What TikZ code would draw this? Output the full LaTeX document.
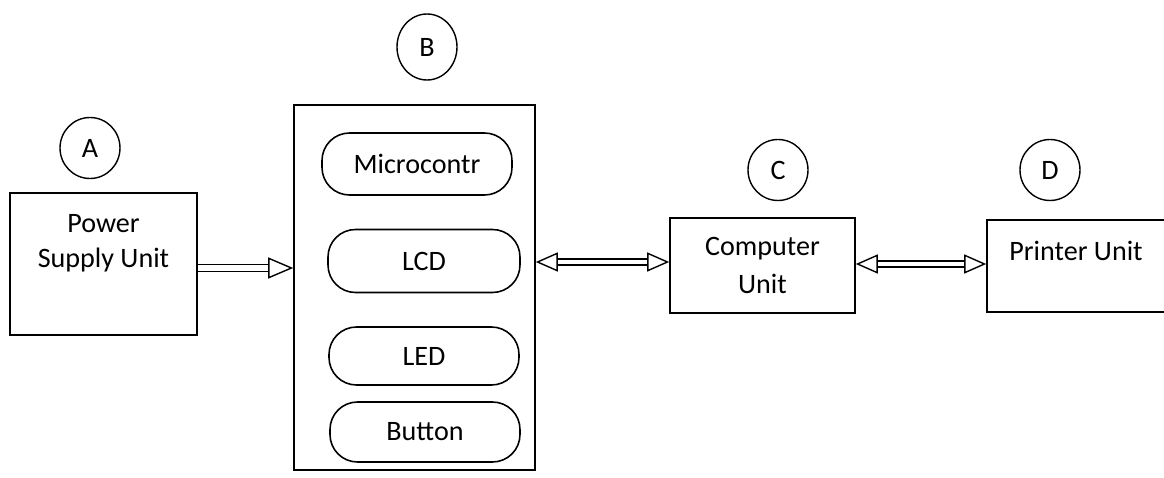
\documentclass[tikz,border=0pt]{standalone}
\usepackage{fontspec}
\setmainfont{Carlito}
\usetikzlibrary{arrows.meta, positioning, shapes.geometric}

\tikzset{
  unit/.style={draw, line width=0.9pt, rectangle, inner sep=0pt},
  part/.style={draw, line width=0.9pt, rounded corners=0.55cm, minimum width=3.8cm, inner sep=0pt},
  tag/.style={draw, line width=0.8pt, ellipse, minimum width=1.2cm, minimum height=1.22cm, inner sep=0pt},
  flow/.style={double, double distance=3.4pt, line width=0.8pt, -{Triangle[open, length=0.5cm, width=0.42cm]}},
  link/.style={double, double distance=2.6pt, line width=0.8pt, {Triangle[open, length=0.44cm, width=0.38cm]}-{Triangle[open, length=0.44cm, width=0.38cm]}}
}

\begin{document}
\begin{tikzpicture}[font=\fontsize{16}{20}\selectfont]
            \useasboundingbox (0,0) rectangle (23.28,-9.56);

            % Labels above the units
            \node[tag] (tagA) at (1.8,-2.96) {A};
            \node[tag, minimum height=1.32cm] (tagB) at (8.54,-0.94) {B};
            \node[tag] (tagC) at (15.56,-3.4) {C};
            \node[tag] (tagD) at (21,-3.4) {D};

            % Power supply
            \node[unit, minimum width=3.74cm, minimum height=2.84cm] (psu) at (2.07,-5.28) {};
            \node[align=center, anchor=north] (psutext) at ([yshift=-0.32cm]psu.north) {Power\\Supply Unit};

            % Controller board
            \node[unit, minimum width=4.82cm, minimum height=7.3cm] (board) at (8.29,-5.75) {};
            \node[part, minimum height=1.24cm] (mcu) at (8.34,-3.28) {Microcontr};
            \node[part, minimum width=3.84cm, minimum height=1.26cm] (lcd) at (8.48,-5.22) {LCD};
            \node[part, minimum height=1.16cm] (led) at (8.48,-7.12) {LED};
            \node[part, minimum height=1.2cm] (btn) at (8.5,-8.64) {Button};

            % Computer and printer
            \node[unit, minimum width=3.7cm, minimum height=1.9cm, align=center] (pc) at (15.25,-5.31) {Computer\\[2pt]Unit};
            \node[unit, minimum width=3.76cm, minimum height=1.84cm] (printer) at (21.62,-5.32) {};
            \node[anchor=north] (printertext) at ([xshift=-0.1cm, yshift=-0.32cm]printer.north) {Printer Unit};

            % Connections
            \draw[flow] (psu.east |- 0,-5.36) -- (board.west |- 0,-5.36);
            \draw[link] (board.east |- 0,-5.24) -- (pc.west |- 0,-5.24);
            \draw[link] (pc.east |- 0,-5.28) -- (printer.west |- 0,-5.28);

        \end{tikzpicture}
\end{document}
